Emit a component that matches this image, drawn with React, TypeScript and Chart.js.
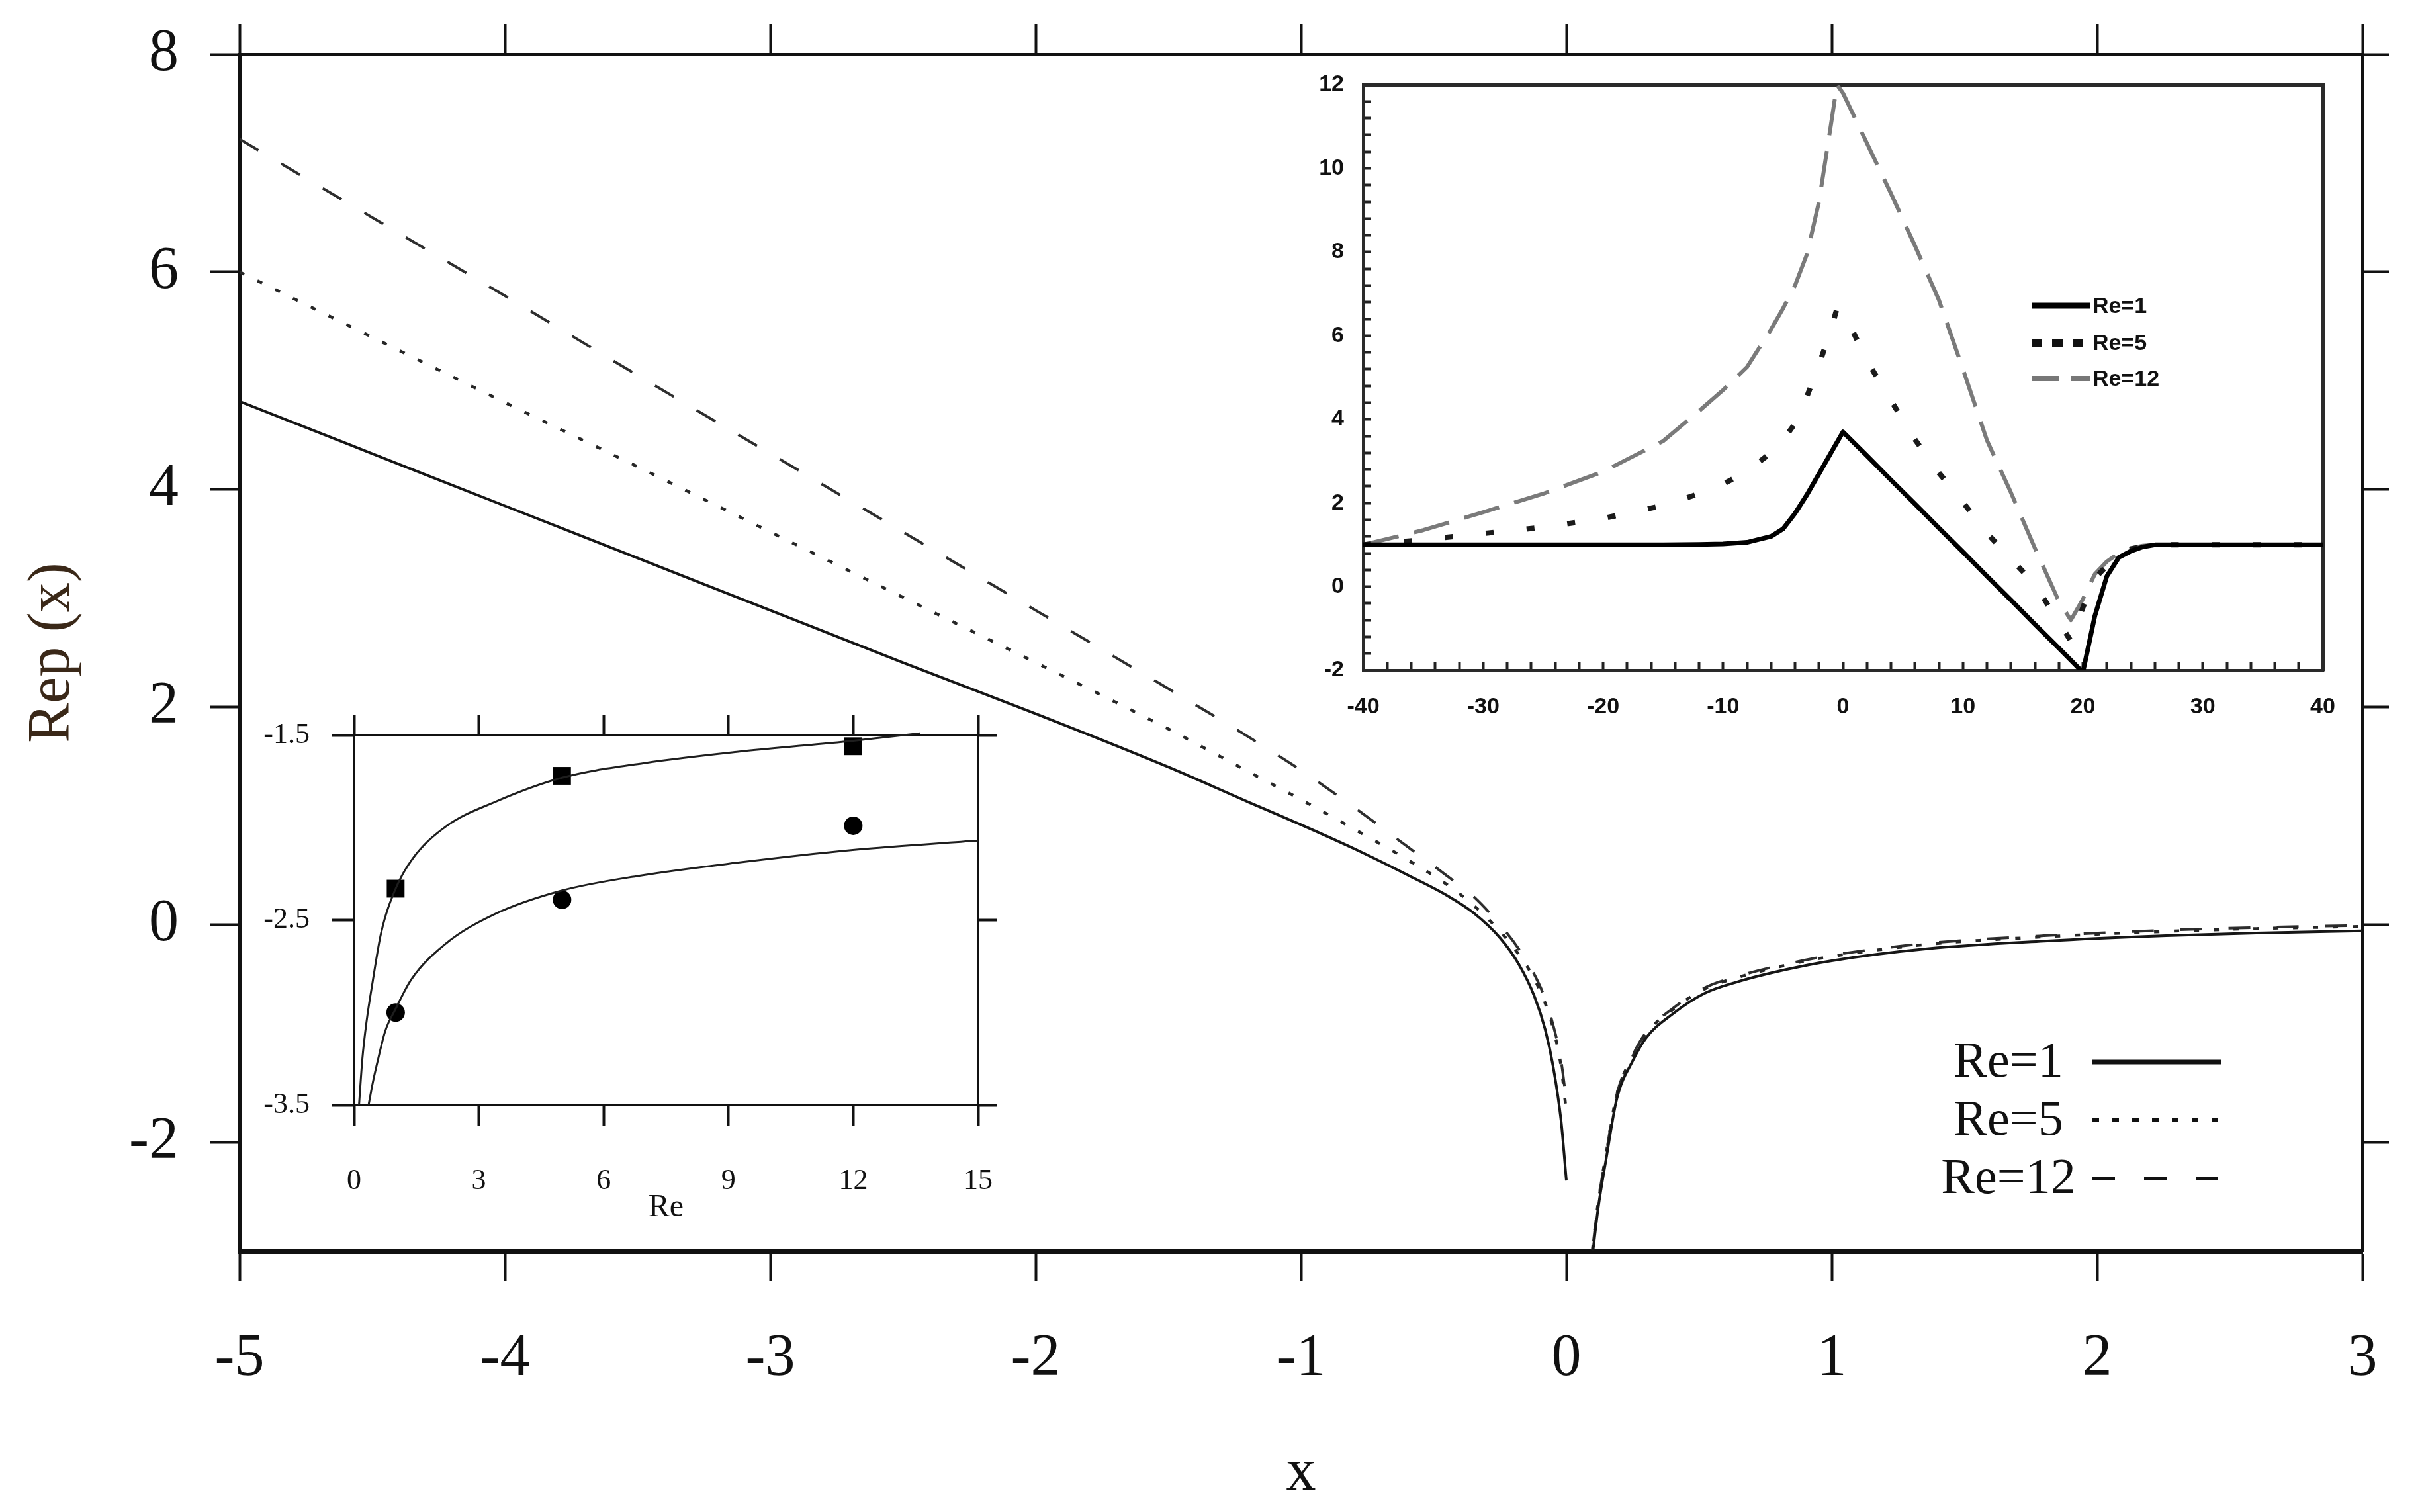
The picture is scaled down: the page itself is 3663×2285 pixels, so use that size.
import React, { useEffect, useRef } from 'react';
import { Chart, registerables } from 'chart.js';

Chart.register(...registerables);

// ---------------- Data: main chart ----------------
const seriesLabels = ['Re=1', 'Re=5', 'Re=12'];
const mainXTicks = [-5, -4, -3, -2, -1, 0, 1, 2, 3];
const mainYTicks = [-2, 0, 2, 4, 6, 8];

const leftX = [-5, -4.5, -4, -3.5, -3, -2.5, -2, -1.5, -1.2, -1, -0.8, -0.6, -0.45, -0.35, -0.25, -0.18, -0.12, -0.08, -0.05, -0.02, 0];
const re1Left = [4.81, 4.33, 3.85, 3.37, 2.89, 2.41, 1.94, 1.45, 1.13, 0.92, 0.7, 0.46, 0.27, 0.11, -0.12, -0.36, -0.66, -0.96, -1.3, -1.8, -2.35];
const re5Left = [6.0, 5.4, 4.8, 4.21, 3.61, 3.01, 2.41, 1.8, 1.41, 1.15, 0.88, 0.6, 0.37, 0.18, -0.06, -0.27, -0.5, -0.72, -0.95, -1.3, -1.72];
const re12Left = [7.22, 6.5, 5.78, 5.05, 4.33, 3.61, 2.89, 2.17, 1.73, 1.42, 1.08, 0.72, 0.45, 0.26, 0.0, -0.22, -0.46, -0.68, -0.92, -1.25, -1.62];

const rightX = [0.08, 0.1, 0.12, 0.15, 0.19, 0.25, 0.3, 0.4, 0.52, 0.65, 0.83, 1.0, 1.36, 1.8, 2.26, 2.6, 3.0];
const re1Right = [-3.4, -3.0, -2.6, -2.15, -1.6, -1.25, -1.04, -0.82, -0.63, -0.52, -0.41, -0.33, -0.22, -0.15, -0.1, -0.075, -0.055];
const re5Right = [-3.35, -2.95, -2.55, -2.1, -1.56, -1.21, -1.0, -0.78, -0.59, -0.48, -0.37, -0.29, -0.18, -0.11, -0.06, -0.035, -0.015];
const re12Right = [-3.35, -2.95, -2.55, -2.1, -1.56, -1.2, -0.99, -0.77, -0.58, -0.47, -0.36, -0.28, -0.17, -0.1, -0.05, -0.025, -0.005];

// ---------------- Data: inset 1 (top right) ----------------
const in1X = [-40, -35, -30, -25, -20, -15, -12, -10, -8, -6, -5, -4, -3, -2, -1, -0.5, 0, 2, 4, 6, 8, 10, 12, 14, 16, 18, 19, 20, 21, 22, 23, 24, 25, 26, 28, 30, 35, 40];
const in1Re1 = [1.0, 1.0, 1.0, 1.0, 1.0, 1.0, 1.01, 1.02, 1.06, 1.2, 1.38, 1.75, 2.2, 2.7, 3.2, 3.45, 3.7, 3.13, 2.55, 1.98, 1.4, 0.83, 0.25, -0.32, -0.9, -1.47, -1.76, -2.05, -0.7, 0.25, 0.7, 0.85, 0.95, 1.0, 1.0, 1.0, 1.0, 1.0];
const in1Re5 = [1.0, 1.12, 1.27, 1.42, 1.63, 1.94, 2.22, 2.45, 2.76, 3.2, 3.5, 3.9, 4.55, 5.3, 6.15, 6.65, 6.6, 5.4, 4.45, 3.52, 2.72, 2.02, 1.28, 0.67, 0.05, -0.85, -1.3, -0.5, 0.2, 0.5, 0.78, 0.9, 0.96, 1.0, 1.0, 1.0, 1.0, 1.0];
const in1Re12 = [1.0, 1.35, 1.78, 2.22, 2.75, 3.48, 4.2, 4.7, 5.25, 6.15, 6.65, 7.2, 7.95, 9.2, 11.05, 12.0, 11.8, 10.6, 9.4, 8.15, 6.85, 5.2, 3.5, 2.25, 0.92, -0.35, -0.8, -0.3, 0.3, 0.6, 0.8, 0.92, 0.98, 1.0, 1.0, 1.0, 1.0, 1.0];
const in1XLabels = [-40, -30, -20, -10, 0, 10, 20, 30, 40];
const in1YLabels = [-2, 0, 2, 4, 6, 8, 10, 12];
const in1XMinorStep = 2;
const in1YMinorStep = 0.4;

// ---------------- Data: inset 2 (bottom left) ----------------
const in2XTicks = [0, 3, 6, 9, 12, 15];
const in2YTicks = [-3.5, -2.5, -1.5];
const expRe = [1, 5, 12];
const expSquares = [-2.33, -1.72, -1.56];
const expCircles = [-3.0, -2.39, -1.99];
const fitUpperRe = [0.12, 0.2, 0.3, 0.45, 0.65, 1.0, 1.4, 2.2, 3.4, 5, 7, 9.2, 12, 13.6];
const fitUpperVal = [-3.5, -3.25, -3.05, -2.83, -2.57, -2.33, -2.17, -1.995, -1.86, -1.73, -1.65, -1.59, -1.53, -1.49];
const fitLowerRe = [0.35, 0.45, 0.56, 0.75, 1.0, 1.38, 2.19, 3.36, 5, 6.86, 9.2, 12.03, 15];
const fitLowerVal = [-3.5, -3.38, -3.27, -3.1, -2.98, -2.82, -2.63, -2.47, -2.34, -2.26, -2.19, -2.12, -2.07];

// ---------------- helpers ----------------
const serif = "'Liberation Serif', 'Times New Roman', serif";
const sans = "'Liberation Sans', Arial, sans-serif";

const pts = (xs: number[], ys: number[]) => xs.map((x, i) => ({ x, y: ys[i] }));
const range = (a: number, b: number, s: number) => {
  const out: number[] = [];
  for (let k = 0; a + k * s <= b + 1e-9; k++) out.push(Math.round((a + k * s) * 1000) / 1000);
  return out;
};
const noPad = (scale: any) => {
  scale.paddingTop = 0;
  scale.paddingBottom = 0;
  scale.paddingLeft = 0;
  scale.paddingRight = 0;
};
const fixWidth = (w: number) => (scale: any) => { scale.width = w; noPad(scale); };
const fixHeight = (h: number) => (scale: any) => { scale.height = h; noPad(scale); };
const setTicks = (vals: number[]) => (scale: any) => { scale.ticks = vals.map((v) => ({ value: v })); };

const mainStyles = [
  { color: '#161616', width: 4, dash: [] as number[] },
  { color: '#262626', width: 4.5, dash: [8, 22] },
  { color: '#2e2e2e', width: 4, dash: [33, 40] },
];

const mainLegendPlugin = {
  id: 'mainLegend',
  afterDraw(chart: any) {
    const ctx = chart.ctx;
    const rowsY = [1605, 1693, 1781];
    const legendDash = [[], [10, 20], [34, 44]];
    ctx.save();
    seriesLabels.forEach((label, i) => {
      ctx.font = `76px ${serif}`;
      ctx.fillStyle = '#111';
      ctx.textAlign = 'center';
      ctx.textBaseline = 'middle';
      ctx.fillText(label, 3035, rowsY[i] + 2);
      ctx.beginPath();
      ctx.setLineDash(legendDash[i]);
      ctx.lineWidth = i === 0 ? 7 : 6;
      ctx.strokeStyle = '#111';
      ctx.moveTo(3162, rowsY[i]);
      ctx.lineTo(3356, rowsY[i]);
      ctx.stroke();
    });
    ctx.restore();
  },
};

const in1Legend = {
  id: 'in1Legend',
  afterDraw(chart: any) {
    const ctx = chart.ctx;
    const rowsY = [362, 418, 472];
    const styles = [
      { color: '#000', width: 9, dash: [] as number[] },
      { color: '#111', width: 12, dash: [16, 15] },
      { color: '#777', width: 8, dash: [42, 17] },
    ];
    ctx.save();
    seriesLabels.forEach((label, i) => {
      ctx.beginPath();
      ctx.setLineDash(styles[i].dash);
      ctx.lineWidth = styles[i].width;
      ctx.strokeStyle = styles[i].color;
      ctx.moveTo(1120, rowsY[i]);
      ctx.lineTo(1208, rowsY[i]);
      ctx.stroke();
      ctx.setLineDash([]);
      ctx.font = `bold 34px ${sans}`;
      ctx.fillStyle = '#111';
      ctx.textAlign = 'left';
      ctx.textBaseline = 'middle';
      ctx.fillText(label, 1212, rowsY[i] + 2);
    });
    ctx.restore();
  },
};

function mainConfig(): any {
  const mk = (i: number, left: number[], right: number[]) => ({
    label: seriesLabels[i],
    data: [...pts(leftX, left), { x: 0.04, y: null }, ...pts(rightX, right)],
    showLine: true,
    pointRadius: 0,
    borderColor: mainStyles[i].color,
    borderWidth: mainStyles[i].width,
    borderDash: mainStyles[i].dash,
    borderJoinStyle: 'round',
    spanGaps: false,
    cubicInterpolationMode: 'monotone',
  });
  const grid = (len: number) => ({ display: true, drawOnChartArea: false, drawTicks: true, tickLength: len, tickWidth: 4, tickColor: '#111' });
  return {
    type: 'scatter',
    data: {
      datasets: [mk(0, re1Left, re1Right), mk(1, re5Left, re5Right), mk(2, re12Left, re12Right)],
    },
    options: {
      responsive: false,
      maintainAspectRatio: false,
      animation: false,
      layout: { padding: 0 },
      plugins: { legend: { display: false }, tooltip: { enabled: false } },
      scales: {
        x: {
          type: 'linear', position: 'bottom', min: -5, max: 3,
          afterBuildTicks: setTicks(mainXTicks),
          afterFit: fixHeight(394),
          ticks: { autoSkip: false, maxRotation: 0, padding: 64, color: '#111', font: { family: serif, size: 90 }, callback: (v: number) => String(v) },
          grid: grid(45),
          border: { display: true, width: 7, color: '#111' },
          title: { display: true, text: 'x', color: '#111', font: { family: serif, size: 90 }, padding: { top: 0, bottom: 4 } },
        },
        x2: {
          type: 'linear', position: 'top', min: -5, max: 3,
          afterBuildTicks: setTicks(mainXTicks),
          afterFit: fixHeight(82),
          ticks: { display: false, autoSkip: false },
          grid: grid(45),
          border: { display: true, width: 5, color: '#111' },
        },
        y: {
          type: 'linear', position: 'left', min: -3, max: 8,
          afterBuildTicks: setTicks(mainYTicks),
          afterFit: fixWidth(362),
          ticks: { autoSkip: false, padding: 47, color: '#111', font: { family: serif, size: 90 }, callback: (v: number) => String(v) },
          grid: grid(45),
          border: { display: true, width: 5, color: '#111' },
          title: { display: true, text: 'Rep (x)', color: '#3a2818', font: { family: serif, size: 90 }, padding: { top: 26, bottom: 0 } },
        },
        y2: {
          type: 'linear', position: 'right', min: -3, max: 8,
          afterBuildTicks: setTicks(mainYTicks),
          afterFit: fixWidth(93),
          ticks: { display: false, autoSkip: false },
          grid: grid(40),
          border: { display: true, width: 5, color: '#111' },
        },
      },
    },
    plugins: [mainLegendPlugin],
  };
}

function inset1Config(): any {
  const styles = [
    { color: '#000', width: 7, dash: [] as number[] },
    { color: '#1a1a1a', width: 8, dash: [12, 50] },
    { color: '#7a7a7a', width: 6, dash: [55, 24] },
  ];
  const series = [in1Re1, in1Re5, in1Re12];
  const xTicks = range(-40, 40, in1XMinorStep);
  const yTicks = range(-2, 12, in1YMinorStep);
  const tickFont = { family: sans, size: 34, weight: 'bold' };
  const innerGrid = { display: true, drawOnChartArea: false, drawTicks: true, tickLength: -12, tickWidth: 4, tickColor: '#222' };
  const noTicks = { display: true, drawOnChartArea: false, drawTicks: false };
  return {
    type: 'scatter',
    data: {
      datasets: series.map((ys, i) => ({
        label: seriesLabels[i],
        data: pts(in1X, ys),
        showLine: true,
        pointRadius: 0,
        borderColor: styles[i].color,
        borderWidth: styles[i].width,
        borderDash: styles[i].dash,
        borderJoinStyle: 'round',
        tension: 0,
      })),
    },
    options: {
      responsive: false,
      maintainAspectRatio: false,
      animation: false,
      layout: { padding: 0 },
      plugins: { legend: { display: false }, tooltip: { enabled: false } },
      scales: {
        x: {
          type: 'linear', position: 'bottom', min: -40, max: 40,
          afterBuildTicks: setTicks(xTicks),
          afterFit: fixHeight(87),
          ticks: { autoSkip: false, maxRotation: 0, padding: 47, color: '#111', font: tickFont, callback: (v: number) => (in1XLabels.includes(v) ? String(v) : '') },
          grid: innerGrid,
          border: { display: true, width: 5, color: '#2a2a2a' },
        },
        x2: {
          type: 'linear', position: 'top', min: -40, max: 40,
          afterFit: fixHeight(28),
          ticks: { display: false },
          grid: noTicks,
          border: { display: true, width: 5, color: '#2a2a2a' },
        },
        y: {
          type: 'linear', position: 'left', min: -2, max: 12,
          afterBuildTicks: setTicks(yTicks),
          afterFit: fixWidth(110),
          ticks: { autoSkip: false, padding: 41, color: '#111', font: tickFont, callback: (v: number) => (in1YLabels.includes(v) ? String(v) : '') },
          grid: innerGrid,
          border: { display: true, width: 5, color: '#2a2a2a' },
        },
        y2: {
          type: 'linear', position: 'right', min: -2, max: 12,
          afterFit: fixWidth(40),
          ticks: { display: false },
          grid: noTicks,
          border: { display: true, width: 5, color: '#2a2a2a' },
        },
      },
    },
    plugins: [in1Legend],
  };
}

function inset2Config(): any {
  const grid = (len: number) => ({ display: true, drawOnChartArea: false, drawTicks: true, tickLength: len, tickWidth: 4, tickColor: '#111' });
  const lineDs = (xs: number[], ys: number[], label: string) => ({
    label,
    data: pts(xs, ys),
    showLine: true,
    pointRadius: 0,
    borderColor: '#1e1e1e',
    borderWidth: 3,
    cubicInterpolationMode: 'monotone',
    clip: 6,
  });
  return {
    type: 'scatter',
    data: {
      datasets: [
        lineDs(fitUpperRe, fitUpperVal, 'fit upper'),
        lineDs(fitLowerRe, fitLowerVal, 'fit lower'),
        {
          label: 'squares', data: pts(expRe, expSquares), pointStyle: 'rect', pointRadius: 19,
          backgroundColor: '#000', borderColor: '#000', borderWidth: 0, showLine: false,
        },
        {
          label: 'circles', data: pts(expRe, expCircles), pointStyle: 'circle', pointRadius: 14,
          backgroundColor: '#000', borderColor: '#000', borderWidth: 0, showLine: false,
        },
      ],
    },
    options: {
      responsive: false,
      maintainAspectRatio: false,
      animation: false,
      layout: { padding: 0 },
      plugins: { legend: { display: false }, tooltip: { enabled: false } },
      scales: {
        x: {
          type: 'linear', position: 'bottom', min: 0, max: 15,
          afterBuildTicks: setTicks(in2XTicks),
          afterFit: fixHeight(190),
          ticks: { autoSkip: false, maxRotation: 0, padding: 58, color: '#111', font: { family: serif, size: 44 }, callback: (v: number) => String(v) },
          grid: grid(31),
          border: { display: true, width: 4, color: '#111' },
          title: { display: true, text: 'Re', color: '#111', font: { family: serif, size: 48 }, padding: { top: 0, bottom: 6 } },
        },
        x2: {
          type: 'linear', position: 'top', min: 0, max: 15,
          afterBuildTicks: setTicks(in2XTicks),
          afterFit: fixHeight(51),
          ticks: { display: false, autoSkip: false },
          grid: grid(31),
          border: { display: true, width: 4, color: '#111' },
        },
        y: {
          type: 'linear', position: 'left', min: -3.5, max: -1.5,
          afterBuildTicks: setTicks(in2YTicks),
          afterFit: fixWidth(155),
          ticks: { autoSkip: false, padding: 33, color: '#111', font: { family: serif, size: 44 }, callback: (v: number) => v.toFixed(1) },
          grid: grid(34),
          border: { display: true, width: 4, color: '#111' },
        },
        y2: {
          type: 'linear', position: 'right', min: -3.5, max: -1.5,
          afterBuildTicks: setTicks(in2YTicks),
          afterFit: fixWidth(62),
          ticks: { display: false, autoSkip: false },
          grid: grid(28),
          border: { display: true, width: 4, color: '#111' },
        },
      },
    },
  };
}

export default function App() {
  const mainRef = useRef<HTMLCanvasElement>(null);
  const in1Ref = useRef<HTMLCanvasElement>(null);
  const in2Ref = useRef<HTMLCanvasElement>(null);

  useEffect(() => {
    document.body.style.margin = '0';
    document.body.style.overflow = 'hidden';
    const charts: Chart[] = [];
    if (mainRef.current) charts.push(new Chart(mainRef.current, mainConfig()));
    if (in1Ref.current) charts.push(new Chart(in1Ref.current, inset1Config()));
    if (in2Ref.current) charts.push(new Chart(in2Ref.current, inset2Config()));
    return () => charts.forEach((c) => c.destroy());
  }, []);

  return (
    <div style={{ position: 'absolute', left: 0, top: 0, width: 3663, height: 2285, background: '#fff', overflow: 'hidden' }}>
      <canvas ref={mainRef} width={3663} height={2285} style={{ position: 'absolute', left: 0, top: 0, width: 3663, height: 2285 }} />
      <canvas ref={in1Ref} width={1600} height={1000} style={{ position: 'absolute', left: 1950, top: 100, width: 1600, height: 1000 }} />
      <canvas ref={in2Ref} width={1160} height={800} style={{ position: 'absolute', left: 380, top: 1060, width: 1160, height: 800 }} />
    </div>
  );
}
